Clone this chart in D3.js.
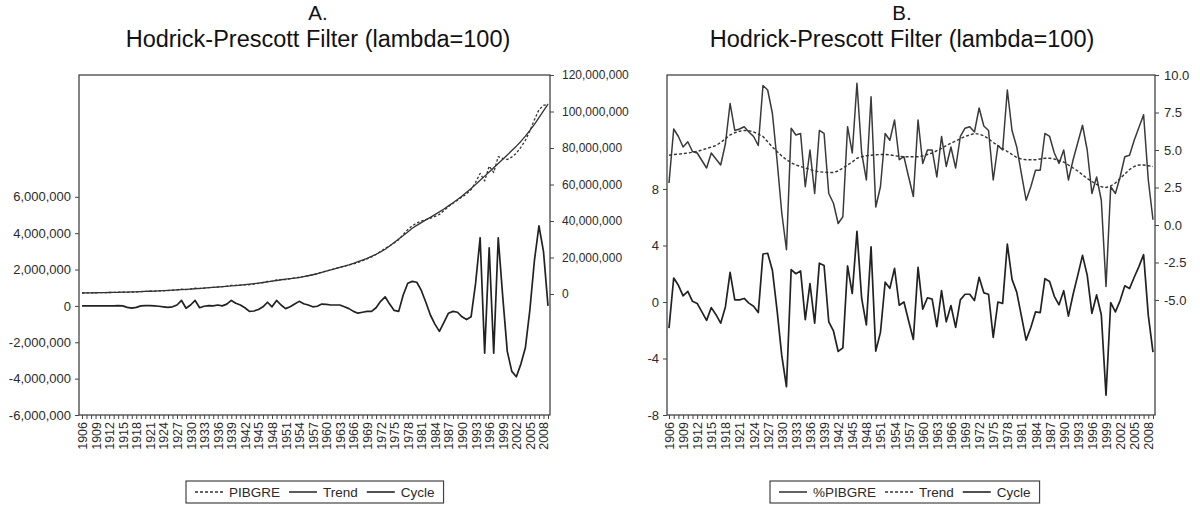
<!DOCTYPE html>
<html><head><meta charset="utf-8">
<script src="https://cdn.jsdelivr.net/npm/d3@7"></script>
<style>
body{margin:0;background:#fff}
svg{display:block}
</style></head><body>
<svg id="c" width="1200" height="505"></svg>
<script>
// ---------- DATA ----------
const years = d3.range(1906, 2010); // 1906 .. 2009
const xTickLabels = [1906,1909,1912,1915,1918,1921,1924,1927,1930,1933,1936,1939,1942,1945,1948,1951,1954,1957,1960,1963,1966,1969,1972,1975,1978,1981,1984,1987,1990,1993,1996,1999,2002,2005,2008];

// Panel A (millions)
const pibgreA = [0.55,0.6,0.64,0.68,0.72,0.77,0.82,0.88,0.96,1.0,
 0.99,1.02,1.14,1.31,1.42,1.52,1.6,1.7,1.79,1.89,
 2.05,2.3,2.7,2.42,2.75,3.17,2.95,3.22,3.46,3.62,
 3.85,4.0,4.3,4.7,4.75,4.9,5.0,5.1,5.42,5.8,
 6.25,6.85,6.95,7.7,7.85,7.95,8.35,8.8,9.25,9.62,
 10.05,10.5,11.08,11.9,12.58,13.25,13.95,14.65,15.25,15.85,
 16.5,17.3,18.25,19.2,20.3,21.7,23.35,25.0,26.4,27.95,
 29.8,32.6,35.25,37.35,38.9,39.95,40.8,41.5,42.5,43.6,
 45.7,47.9,49.7,51.45,53.1,54.95,57.2,61.25,66.05,62.0,
 70.1,66.6,75.25,74.3,73.7,75.0,77.1,80.4,84.2,89.4,
 95.5,101.0,103.3,104.0];
const trendA = [0.55,0.6,0.64,0.68,0.72,0.77,0.82,0.88,0.94,1.0,
 1.07,1.14,1.22,1.31,1.4,1.5,1.6,1.72,1.84,1.97,
 2.1,2.25,2.4,2.55,2.7,2.87,3.05,3.24,3.44,3.62,
 3.8,4.0,4.2,4.4,4.6,4.85,5.1,5.4,5.7,6.0,
 6.3,6.65,7.0,7.4,7.8,8.1,8.4,8.7,9.0,9.5,
 10.0,10.55,11.1,11.8,12.5,13.2,13.9,14.6,15.3,16.0,
 16.8,17.7,18.6,19.5,20.6,21.8,23.1,24.5,26.3,28.2,
 30.1,32.0,34.0,36.0,37.6,39.1,40.6,42.0,43.5,45.0,
 46.6,48.3,50.0,51.8,53.7,55.7,57.8,60.0,62.3,64.6,
 66.9,69.2,71.5,73.8,76.2,78.6,81.0,83.6,86.5,89.6,
 93.0,96.6,100.3,104.0];
const cycleA = [0,0,0,0,0,0,0,0,0.02,0,
 -0.08,-0.12,-0.08,0,0.02,0.02,0,-0.02,-0.05,-0.08,
 -0.05,0.05,0.3,-0.13,0.05,0.3,-0.1,-0.02,0.02,0,
 0.05,0,0.1,0.3,0.15,0.05,-0.1,-0.3,-0.28,-0.2,
 -0.05,0.2,-0.05,0.3,0.05,-0.15,-0.05,0.1,0.25,0.12,
 0.05,-0.05,-0.02,0.1,0.08,0.05,0.05,0.05,-0.05,-0.15,
 -0.3,-0.4,-0.35,-0.3,-0.3,-0.1,0.25,0.5,0.1,-0.25,
 -0.3,0.6,1.25,1.35,1.3,0.85,0.2,-0.5,-1.0,-1.4,
 -0.9,-0.4,-0.3,-0.35,-0.6,-0.75,-0.6,1.25,3.75,-2.6,
 3.2,-2.6,3.75,0.5,-2.5,-3.6,-3.9,-3.2,-2.3,-0.2,
 2.5,4.4,3.0,0.0];
const leftTicksA = [-6,-4,-2,0,2,4,6];          // millions
const rightTicksA = [0,20,40,60,80,100,120];   // millions

// Panel B (%)
const growthB = [2.8,6.4,5.9,5.2,5.55,4.9,4.8,4.3,3.8,4.8,
 4.4,4.0,5.4,8.1,6.3,6.4,6.55,6.2,5.9,5.3,
 9.3,9.0,7.45,4.3,0.8,-1.65,6.45,6.0,6.1,2.55,
 5.0,2.1,6.3,6.1,2.1,1.45,0.1,0.55,6.55,4.8,
 9.45,4.8,3.0,8.55,1.2,2.55,6.1,5.65,7.0,4.35,
 4.55,3.2,1.9,7.0,4.1,5.0,5.0,3.2,5.9,3.9,
 5.2,3.8,5.9,6.45,6.55,6.2,7.8,6.6,6.3,3.0,
 5.3,5.0,9.0,6.3,5.2,3.4,1.65,2.55,3.65,3.65,
 6.1,5.9,4.8,4.1,5.0,3.0,4.35,5.5,6.65,5.0,
 2.1,3.2,1.65,-4.1,2.55,2.1,3.2,4.55,4.65,5.65,
 6.5,7.35,3.0,0.35];
const trendB = [4.65,4.7,4.72,4.76,4.8,4.85,4.9,5.0,5.1,5.2,
 5.3,5.5,5.75,6.0,6.15,6.25,6.3,6.28,6.2,6.05,
 5.9,5.55,5.2,4.9,4.6,4.35,4.15,4.0,3.9,3.8,
 3.7,3.6,3.55,3.52,3.5,3.5,3.6,3.8,4.0,4.2,
 4.45,4.55,4.62,4.65,4.68,4.7,4.7,4.68,4.62,4.58,
 4.55,4.55,4.55,4.55,4.6,4.7,4.8,4.95,5.1,5.3,
 5.45,5.6,5.75,5.9,6.0,6.1,6.05,5.95,5.75,5.5,
 5.3,5.1,4.9,4.7,4.5,4.4,4.35,4.35,4.35,4.4,
 4.45,4.45,4.4,4.3,4.2,4.0,3.8,3.6,3.35,3.1,
 2.9,2.7,2.55,2.5,2.6,2.8,3.1,3.4,3.7,3.9,
 4.0,4.0,3.95,3.9];
const cycleB = [-1.85,1.7,1.18,0.44,0.75,0.05,-0.1,-0.7,-1.3,-0.4,
 -0.9,-1.5,-0.35,2.1,0.15,0.15,0.25,-0.08,-0.3,-0.75,
 3.4,3.45,2.25,-0.6,-3.8,-6.0,2.3,2.0,2.2,-1.25,
 1.3,-1.5,2.75,2.58,-1.4,-2.05,-3.5,-3.25,2.55,0.6,
 5.0,0.25,-1.62,3.9,-3.48,-2.15,1.4,0.97,2.38,-0.23,
 0.0,-1.35,-2.65,2.45,-0.5,0.3,0.2,-1.75,0.8,-1.4,
 -0.25,-1.8,0.15,0.55,0.55,0.1,1.75,0.65,0.55,-2.5,
 0.0,-0.1,4.1,1.6,0.7,-1.0,-2.7,-1.8,-0.7,-0.75,
 1.65,1.45,0.4,-0.2,0.8,-1.0,0.55,1.9,3.3,1.9,
 -0.8,0.5,-0.9,-6.6,-0.05,-0.7,0.1,1.15,0.95,1.75,
 2.5,3.35,-0.95,-3.55];
const leftTicksB = [-8,-4,0,4,8];
const rightTicksB = [-5,-2.5,0,2.5,5,7.5,10];

// ---------- DRAW ----------
const svg = d3.select("#c");
const FONT = "'Liberation Sans', Arial, sans-serif";
const TFONT = "'Liberation Sans', Arial, sans-serif";
const INK = "#2a2a2a";
const loc = d3.formatLocale({decimal:".", thousands:",", grouping:[3], currency:["",""], minus:"-"});
const fmtBig = d => loc.format(",")(Math.round(d*1e6));
const fmtInt = loc.format("d");
const fmt1 = loc.format(".1f");

function drawPanel(o) {
  const g = svg.append("g");
  // titles
  g.append("text").attr("x", o.tx).attr("y", 20).attr("text-anchor","middle")
    .style("font-family", TFONT).style("font-size","20.5px").attr("fill","#111").text(o.letter);
  g.append("text").attr("x", o.tx).attr("y", 47).attr("text-anchor","middle")
    .style("font-family", TFONT).style("font-size","23.5px").attr("fill","#111")
    .text("Hodrick-Prescott Filter (lambda=100)");

  const x = d3.scaleLinear().domain([years[0], years[years.length-1]]).range(o.xr);
  const yL = d3.scaleLinear().domain(o.yLdom).range([o.y1, o.y0]);
  const yR = d3.scaleLinear().domain(o.yRdom).range([o.y1, o.y0]);

  // frame
  g.append("rect").attr("x", o.x0).attr("y", o.y0).attr("width", o.x1-o.x0).attr("height", o.y1-o.y0)
    .attr("fill","none").attr("stroke","#444").attr("stroke-width",1.3);

  const ga = g.append("g").attr("transform",`translate(${o.x0},0)`)
    .call(d3.axisLeft(yL).tickValues(o.lTicks).tickFormat(o.lFmt).tickSize(4).tickPadding(4));
  const gb = g.append("g").attr("transform",`translate(${o.x1},0)`)
    .call(d3.axisRight(yR).tickValues(o.rTicks).tickFormat(o.rFmt).tickSize(4).tickPadding(o.rPad));
  const gx = g.append("g").attr("transform",`translate(0,${o.y1})`)
    .call(d3.axisBottom(x).tickValues(years).tickSize(4)
      .tickFormat(d => xTickLabels.includes(d) ? String(d) : ""));
  [ga, gb, gx].forEach(a => {
    a.select(".domain").remove();
    a.selectAll("line").attr("stroke","#444");
    a.selectAll("text").style("font-family", FONT).attr("fill", INK);
  });
  ga.selectAll("text").style("font-size","13px");
  gb.selectAll("text").style("font-size", o.rFont);
  gx.selectAll("text").style("font-size","12.5px")
    .attr("transform","rotate(-90)").attr("x",-7).attr("y",0).attr("dy","0.36em")
    .style("text-anchor","end");

  const plot = g.append("g");
  o.series.forEach(s => {
    const sc = s.axis === "L" ? yL : yR;
    plot.append("path").datum(s.values)
      .attr("fill","none").attr("stroke", s.color).attr("stroke-width", s.width)
      .attr("stroke-dasharray", s.dash || null).attr("stroke-linejoin","round")
      .attr("d", d3.line().x((d,i) => x(years[i])).y(d => sc(d)));
  });

  // legend
  const lg = g.append("g");
  const ly = 492;
  let cx = o.legX + 9;
  o.series.forEach(s => {
    lg.append("line").attr("x1", cx).attr("x2", cx+28).attr("y1", ly).attr("y2", ly)
      .attr("stroke", s.color).attr("stroke-width", s.dash ? 1.4 : 1.6)
      .attr("stroke-dasharray", s.dash ? "3,2" : null);
    const t = lg.append("text").attr("x", cx+34).attr("y", ly+5)
      .style("font-family", FONT).style("font-size","13.5px").attr("fill", INK).text(s.name);
    cx = cx + 34 + t.node().getComputedTextLength() + 9;
  });
  lg.insert("rect", ":first-child").attr("x", o.legX).attr("y", 481).attr("width", cx - o.legX).attr("height", 22)
    .attr("fill","#fff").attr("stroke","#444").attr("stroke-width",1.2);
}

drawPanel({
  letter: "A.", tx: 318,
  x0: 79, x1: 550, y0: 75, y1: 415, xr: [82, 548],
  yLdom: [-6, 12.7], yRdom: [-66.3, 120],
  lTicks: leftTicksA, rTicks: rightTicksA, lFmt: fmtBig, rFmt: fmtBig, rPad: 8, rFont: "12px",
  legX: 186,
  series: [
    {name: "PIBGRE", values: pibgreA, axis: "R", color: "#333", width: 1.3, dash: "2.5,2"},
    {name: "Trend",  values: trendA,  axis: "R", color: "#333", width: 1.3},
    {name: "Cycle",  values: cycleA,  axis: "L", color: "#222", width: 1.7}
  ]
});

drawPanel({
  letter: "B.", tx: 902,
  x0: 667, x1: 1155, y0: 75, y1: 415, xr: [669, 1153],
  yLdom: [-8, 16.07], yRdom: [-12.67, 10],
  lTicks: leftTicksB, rTicks: rightTicksB, lFmt: fmtInt, rFmt: fmt1, rPad: 5, rFont: "13px",
  legX: 770,
  series: [
    {name: "%PIBGRE", values: growthB, axis: "R", color: "#3a3a3a", width: 1.5},
    {name: "Trend",   values: trendB,  axis: "R", color: "#333", width: 1.4, dash: "3,2"},
    {name: "Cycle",   values: cycleB,  axis: "L", color: "#222", width: 1.7}
  ]
});
</script>
</body></html>
